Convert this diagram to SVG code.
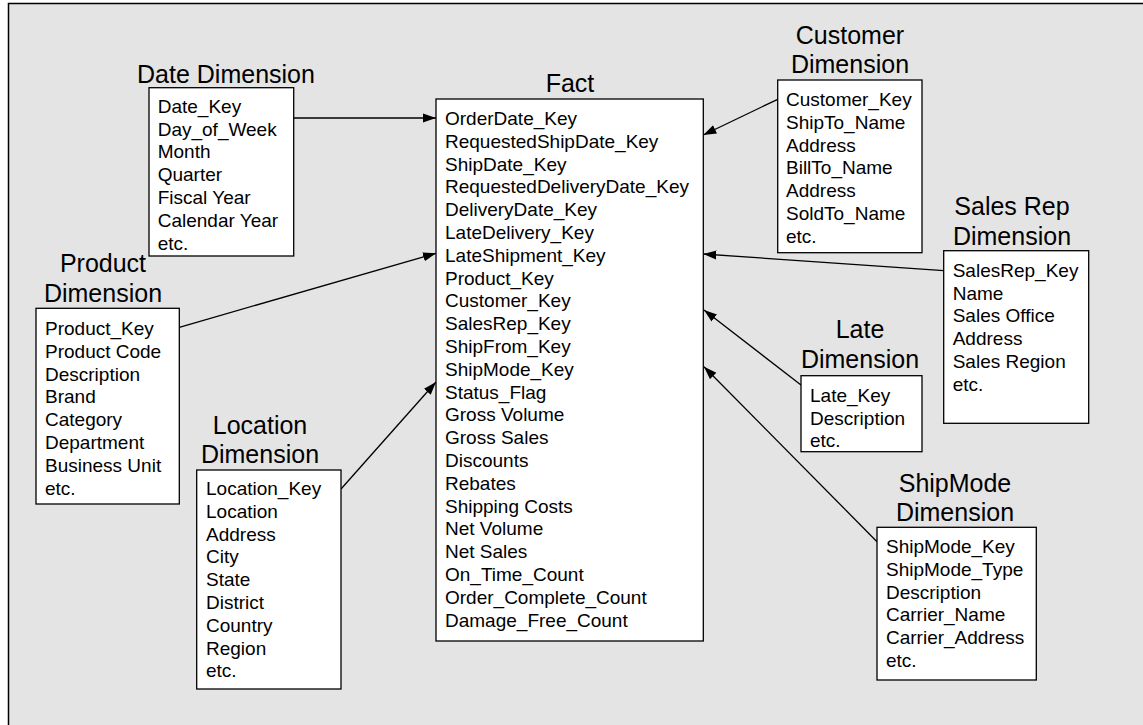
<svg xmlns="http://www.w3.org/2000/svg" width="1143" height="725" viewBox="0 0 1143 725">
<defs>
<style>
.bg{fill:#e4e4e4;stroke:#000;stroke-width:1.5}
.box{fill:#fff;stroke:#000;stroke-width:1.3}
.t{font-family:"Liberation Sans",Arial,sans-serif;font-size:25px;fill:#000;text-anchor:middle}
.i{font-family:"Liberation Sans",Arial,sans-serif;font-size:19px;fill:#000}
.c{stroke:#000;stroke-width:1.3;fill:none;marker-end:url(#ah)}
</style>
<marker id="ah" markerUnits="userSpaceOnUse" markerWidth="14" markerHeight="10" refX="13" refY="5" orient="auto">
<path d="M0,0.5 L13,5 L0,9.5 z" fill="#000"/>
</marker>
</defs>
<rect x="0" y="0" width="1143" height="725" fill="#fff"/>
<rect class="bg" x="8.5" y="3.5" width="1160" height="740"/>

<g id="connectors">
<line class="c" x1="293.7" y1="118" x2="436" y2="118"/>
<line class="c" x1="777.7" y1="99.3" x2="703.3" y2="135"/>
<line class="c" x1="179.3" y1="327.3" x2="436" y2="253.3"/>
<line class="c" x1="943.7" y1="270.7" x2="703.3" y2="254"/>
<line class="c" x1="801" y1="385" x2="704" y2="310"/>
<line class="c" x1="341" y1="489" x2="436" y2="382"/>
<line class="c" x1="877" y1="541.7" x2="704" y2="366.7"/>
</g>

<g id="date">
<text class="t" x="226" y="82.7">Date Dimension</text>
<rect class="box" x="149" y="87.7" width="144.7" height="168.3"/>
<text class="i" x="157.7" y="112.7">Date_Key</text>
<text class="i" x="157.7" y="135.5">Day_of_Week</text>
<text class="i" x="157.7" y="158.3">Month</text>
<text class="i" x="157.7" y="181.1">Quarter</text>
<text class="i" x="157.7" y="203.9">Fiscal Year</text>
<text class="i" x="157.7" y="226.7">Calendar Year</text>
<text class="i" x="157.7" y="249.5">etc.</text>
</g>

<g id="fact">
<text class="t" x="570" y="92">Fact</text>
<rect class="box" x="436" y="99" width="267.3" height="542"/>
<text class="i" x="445" y="125">OrderDate_Key</text>
<text class="i" x="445" y="147.8">RequestedShipDate_Key</text>
<text class="i" x="445" y="170.6">ShipDate_Key</text>
<text class="i" x="445" y="193.4">RequestedDeliveryDate_Key</text>
<text class="i" x="445" y="216.2">DeliveryDate_Key</text>
<text class="i" x="445" y="239">LateDelivery_Key</text>
<text class="i" x="445" y="261.8">LateShipment_Key</text>
<text class="i" x="445" y="284.6">Product_Key</text>
<text class="i" x="445" y="307.4">Customer_Key</text>
<text class="i" x="445" y="330.2">SalesRep_Key</text>
<text class="i" x="445" y="353">ShipFrom_Key</text>
<text class="i" x="445" y="375.8">ShipMode_Key</text>
<text class="i" x="445" y="398.6">Status_Flag</text>
<text class="i" x="445" y="421.4">Gross Volume</text>
<text class="i" x="445" y="444.2">Gross Sales</text>
<text class="i" x="445" y="467">Discounts</text>
<text class="i" x="445" y="489.8">Rebates</text>
<text class="i" x="445" y="512.6">Shipping Costs</text>
<text class="i" x="445" y="535.4">Net Volume</text>
<text class="i" x="445" y="558.2">Net Sales</text>
<text class="i" x="445" y="581">On_Time_Count</text>
<text class="i" x="445" y="603.8">Order_Complete_Count</text>
<text class="i" x="445" y="626.6">Damage_Free_Count</text>
</g>

<g id="customer">
<text class="t" x="850" y="44.3">Customer</text>
<text class="t" x="850" y="73.3">Dimension</text>
<rect class="box" x="777.7" y="80" width="144.3" height="172.7"/>
<text class="i" x="786" y="106">Customer_Key</text>
<text class="i" x="786" y="128.8">ShipTo_Name</text>
<text class="i" x="786" y="151.6">Address</text>
<text class="i" x="786" y="174.4">BillTo_Name</text>
<text class="i" x="786" y="197.2">Address</text>
<text class="i" x="786" y="220">SoldTo_Name</text>
<text class="i" x="786" y="242.8">etc.</text>
</g>

<g id="product">
<text class="t" x="103" y="272.3">Product</text>
<text class="t" x="103" y="302.3">Dimension</text>
<rect class="box" x="36" y="308.3" width="143.3" height="195.7"/>
<text class="i" x="45" y="335">Product_Key</text>
<text class="i" x="45" y="357.8">Product Code</text>
<text class="i" x="45" y="380.6">Description</text>
<text class="i" x="45" y="403.4">Brand</text>
<text class="i" x="45" y="426.2">Category</text>
<text class="i" x="45" y="449">Department</text>
<text class="i" x="45" y="471.8">Business Unit</text>
<text class="i" x="45" y="494.6">etc.</text>
</g>

<g id="salesrep">
<text class="t" x="1012" y="215">Sales Rep</text>
<text class="t" x="1012" y="245">Dimension</text>
<rect class="box" x="943.7" y="250.7" width="145" height="172.6"/>
<text class="i" x="952.7" y="276.7">SalesRep_Key</text>
<text class="i" x="952.7" y="299.5">Name</text>
<text class="i" x="952.7" y="322.3">Sales Office</text>
<text class="i" x="952.7" y="345.1">Address</text>
<text class="i" x="952.7" y="367.9">Sales Region</text>
<text class="i" x="952.7" y="390.7">etc.</text>
</g>

<g id="late">
<text class="t" x="860" y="338.3">Late</text>
<text class="t" x="860" y="368.3">Dimension</text>
<rect class="box" x="801" y="375.7" width="121" height="76"/>
<text class="i" x="810" y="401.7">Late_Key</text>
<text class="i" x="810" y="424.5">Description</text>
<text class="i" x="810" y="447.3">etc.</text>
</g>

<g id="location">
<text class="t" x="260" y="434.3">Location</text>
<text class="t" x="260" y="462.7">Dimension</text>
<rect class="box" x="196.7" y="470" width="144.3" height="219"/>
<text class="i" x="206" y="495">Location_Key</text>
<text class="i" x="206" y="517.8">Location</text>
<text class="i" x="206" y="540.6">Address</text>
<text class="i" x="206" y="563.4">City</text>
<text class="i" x="206" y="586.2">State</text>
<text class="i" x="206" y="609">District</text>
<text class="i" x="206" y="631.8">Country</text>
<text class="i" x="206" y="654.6">Region</text>
<text class="i" x="206" y="677.4">etc.</text>
</g>

<g id="shipmode">
<text class="t" x="955" y="491.7">ShipMode</text>
<text class="t" x="955" y="520.7">Dimension</text>
<rect class="box" x="877" y="527.3" width="159.3" height="152.7"/>
<text class="i" x="886" y="553.3">ShipMode_Key</text>
<text class="i" x="886" y="576">ShipMode_Type</text>
<text class="i" x="886" y="598.7">Description</text>
<text class="i" x="886" y="621.4">Carrier_Name</text>
<text class="i" x="886" y="644.1">Carrier_Address</text>
<text class="i" x="886" y="666.8">etc.</text>
</g>
</svg>
